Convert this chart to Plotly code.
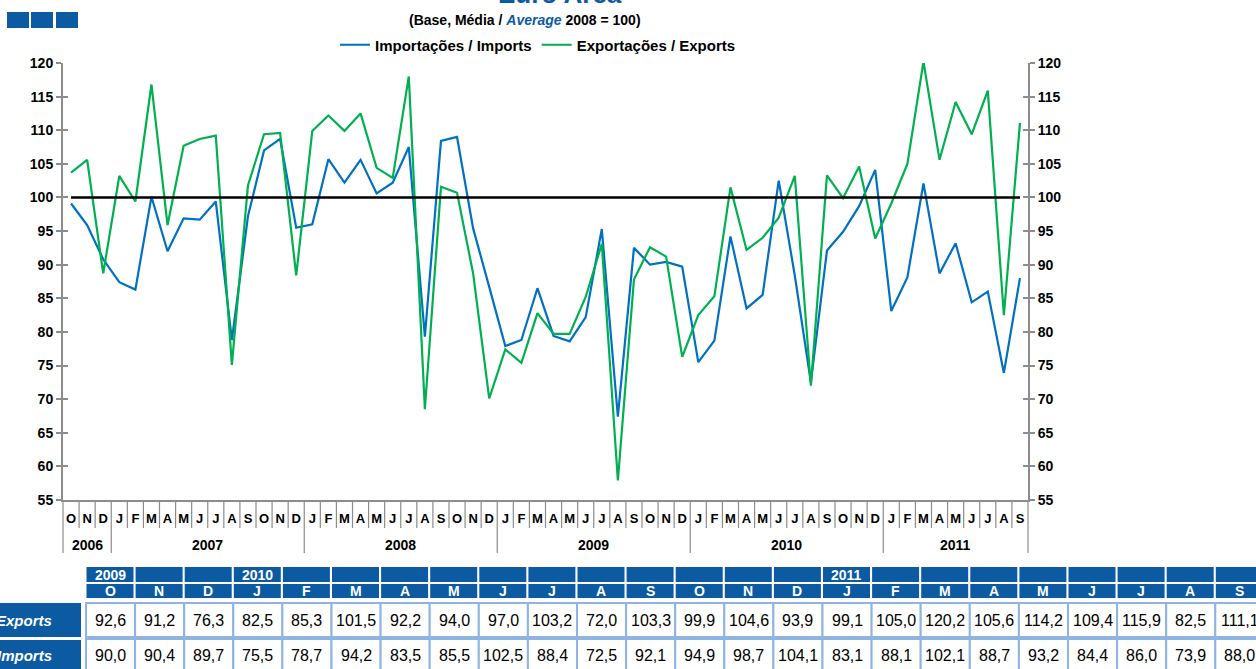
import plotly.graph_objects as go

# ---------------- data ----------------
YEARS = [2006, 2007, 2008, 2009, 2010, 2011]
MONTHS_PER_YEAR = [3, 12, 12, 12, 12, 9]          # Oct-2006 .. Sep-2011
MONTH_LETTERS = ["J", "F", "M", "A", "M", "J", "J", "A", "S", "O", "N", "D"]

exports = [103.7, 105.6, 88.7,
           103.2, 99.4, 116.8, 95.9, 107.7, 108.7, 109.2, 75.1, 101.8, 109.4, 109.6, 88.4,
           109.9, 112.2, 109.9, 112.5, 104.4, 102.9, 118.0, 68.5, 101.6, 100.7, 88.7, 70.1,
           77.4, 75.4, 82.8, 79.7, 79.7, 85.2, 93.1, 57.9, 87.8, 92.6, 91.2, 76.3,
           82.5, 85.3, 101.5, 92.2, 94.0, 97.0, 103.2, 72.0, 103.3, 99.9, 104.6, 93.9,
           99.1, 105.0, 120.2, 105.6, 114.2, 109.4, 115.9, 82.5, 111.1]
imports = [99.1, 95.9, 90.8,
           87.4, 86.3, 100.1, 92.0, 96.9, 96.7, 99.4, 78.8, 97.2, 107.0, 108.7, 95.5,
           96.0, 105.7, 102.2, 105.6, 100.6, 102.2, 107.5, 79.3, 108.4, 109.0, 95.4, 86.7,
           77.9, 78.8, 86.5, 79.4, 78.6, 82.2, 95.3, 67.4, 92.5, 90.0, 90.4, 89.7,
           75.5, 78.7, 94.2, 83.5, 85.5, 102.5, 88.4, 72.5, 92.1, 94.9, 98.7, 104.1,
           83.1, 88.1, 102.1, 88.7, 93.2, 84.4, 86.0, 73.9, 88.0]
TABLE_START = 36   # table shows Oct-2009 onwards

# month letters / year of each point
month_labels, point_years = [], []
for yr, cnt in zip(YEARS, MONTHS_PER_YEAR):
    first = 12 - cnt if yr == YEARS[0] else 0
    for m in range(first, first + cnt):
        month_labels.append(MONTH_LETTERS[m])
        point_years.append(yr)
N = len(month_labels)
idx = list(range(N))

# ---------------- styling helpers ----------------
W, H = 1256, 669
L, R, T, B = 63, 1028, 63, 500
def px(x):
    return (x - L) / (R - L)
def py(y):
    return (B - y) / (B - T)

FONT = "Liberation Sans, Arial, sans-serif"
BLUE = "#0B5AA2"
GRAY = "#8c8c8c"
C_IMP = "#0070C0"
C_EXP = "#00B050"

fig = go.Figure()
fig.add_trace(go.Scatter(x=idx, y=imports, mode="lines", name="Importações / Imports",
                         line=dict(color=C_IMP, width=2.2), yaxis="y"))
fig.add_trace(go.Scatter(x=idx, y=exports, mode="lines", name="Exportações / Exports",
                         line=dict(color=C_EXP, width=2.2), yaxis="y2"))
for ya in ("y3", "y4"):
    fig.add_trace(go.Scatter(x=[0], y=[None], mode="lines", showlegend=False,
                             hoverinfo="skip", yaxis=ya))

shapes = []
annotations = []

# reference line at 100
shapes.append(dict(type="line", xref="x", yref="y", x0=0, x1=N - 1, y0=100, y1=100,
                   line=dict(color="black", width=2.5), layer="above"))

# month separators and year separators below the x axis
year_bounds = [0]
for k in range(1, N):
    if point_years[k] != point_years[k - 1]:
        year_bounds.append(k)
year_bounds.append(N)
for k in range(N + 1):
    is_year = k in year_bounds
    shapes.append(dict(type="line", xref="paper", yref="paper", x0=k / N, x1=k / N,
                       y0=0, y1=py(553 if is_year else 528),
                       line=dict(color=GRAY, width=1.2)))
for a, b in zip(year_bounds[:-1], year_bounds[1:]):
    annotations.append(dict(xref="paper", yref="paper", x=(a + b) / 2 / N, y=py(545),
                            text=str(point_years[a]), showarrow=False,
                            font=dict(family=FONT, size=14, color="black", weight="bold"),
                            xanchor="center", yanchor="middle"))

# title, subtitle, logo squares
annotations.append(dict(xref="paper", yref="paper", x=px(560), y=py(-6), text="Euro Area",
                        showarrow=False, xanchor="center", yanchor="middle",
                        font=dict(family=FONT, size=26, color=BLUE, weight="bold")))
annotations.append(dict(xref="paper", yref="paper", x=px(525), y=py(20),
                        text="(Base, Média / <i><span style='color:%s'>Average</span></i> 2008 = 100)" % BLUE,
                        showarrow=False, xanchor="center", yanchor="middle",
                        font=dict(family=FONT, size=14, color="black", weight="bold")))
for x0 in (7, 31, 56):
    shapes.append(dict(type="rect", xref="paper", yref="paper", x0=px(x0), x1=px(x0 + 22),
                       y0=py(12), y1=py(28), fillcolor=BLUE, line=dict(width=0)))

# ---------------- table ----------------
COLW = 49.1
X_TAB = 86.5
t_months = month_labels[TABLE_START:]
t_years = point_years[TABLE_START:]
t_exp = exports[TABLE_START:]
t_imp = imports[TABLE_START:]
fmt = lambda v: ("%.1f" % v).replace(".", ",")
for i in range(len(t_months)):
    x0 = X_TAB + COLW * i
    # header cells
    for (ya, yb) in ((567, 582), (584, 598)):
        shapes.append(dict(type="rect", xref="paper", yref="paper", x0=px(x0), x1=px(x0 + 47),
                           y0=py(yb), y1=py(ya), fillcolor=BLUE, line=dict(width=0)))
    if i == 0 or t_years[i] != t_years[i - 1]:
        annotations.append(dict(xref="paper", yref="paper", x=px(x0 + 23.5), y=py(574.5),
                                text=str(t_years[i]), showarrow=False,
                                font=dict(family=FONT, size=14, color="white", weight="bold"),
                                xanchor="center", yanchor="middle"))
    annotations.append(dict(xref="paper", yref="paper", x=px(x0 + 23.5), y=py(591),
                            text=t_months[i], showarrow=False,
                            font=dict(family=FONT, size=14, color="white", weight="bold"),
                            xanchor="center", yanchor="middle"))
    # body cells
    for (ya, yb, val) in ((603, 637, t_exp[i]), (639, 676, t_imp[i])):
        shapes.append(dict(type="rect", xref="paper", yref="paper", x0=px(x0 - 0.5), x1=px(x0 + COLW - 0.5),
                           y0=py(yb), y1=py(ya), fillcolor="white",
                           line=dict(color="#8DB4E2", width=2)))
        annotations.append(dict(xref="paper", yref="paper", x=px(x0 + 24), y=py((ya + min(yb, 671)) / 2 + 0.5),
                                text=fmt(val), showarrow=False,
                                font=dict(family=FONT, size=16, color="black"),
                                xanchor="center", yanchor="middle"))
for (ya, yb, lab) in ((603, 637, "Exports"), (640, 676, "Imports")):
    shapes.append(dict(type="rect", xref="paper", yref="paper", x0=px(-10), x1=px(81),
                       y0=py(yb), y1=py(ya), fillcolor=BLUE, line=dict(width=0)))
    annotations.append(dict(xref="paper", yref="paper", x=px(54), y=py((ya + min(yb, 671)) / 2),
                            text="<i>%s</i>" % lab, showarrow=False,
                            font=dict(family=FONT, size=15, color="white", weight="bold"),
                            xanchor="right", yanchor="middle"))

# ---------------- axes ----------------
yax = dict(range=[55, 120], tick0=55, dtick=5, showgrid=False, zeroline=False,
           tickfont=dict(family=FONT, size=14, color="black", weight="bold"))
fig.update_layout(
    width=W, height=H,
    margin=dict(l=L, r=W - R, t=T, b=H - B),
    paper_bgcolor="white", plot_bgcolor="white",
    showlegend=True,
    legend=dict(orientation="h", x=px(538), xanchor="center", y=py(45), yanchor="middle",
                font=dict(family=FONT, size=15, color="black", weight="bold"),
                bgcolor="rgba(0,0,0,0)", itemwidth=30, tracegroupgap=0),
    xaxis=dict(range=[-0.5, N - 0.5], tickmode="array", tickvals=idx, ticktext=month_labels,
               ticks="", showgrid=False, zeroline=False, showline=True, linecolor=GRAY,
               linewidth=2, ticklabelstandoff=5,
               tickfont=dict(family=FONT, size=13, color="black", weight="bold")),
    yaxis=dict(side="left", ticks="outside", ticklen=5, tickcolor=GRAY, tickwidth=1.5,
               showline=True, linecolor=GRAY, linewidth=2, **yax),
    yaxis2=dict(side="right", overlaying="y", ticks="outside", ticklen=5, tickcolor=GRAY,
                tickwidth=1.5, showline=True, linecolor=GRAY, linewidth=2, **yax),
    yaxis3=dict(side="left", overlaying="y", ticks="inside", ticklen=5, tickcolor=GRAY,
                tickwidth=1.5, showticklabels=False, showline=False, **yax),
    yaxis4=dict(side="right", overlaying="y", ticks="inside", ticklen=5, tickcolor=GRAY,
                tickwidth=1.5, showticklabels=False, showline=False, **yax),
    shapes=shapes,
    annotations=annotations,
)

fig.write_html("out.html", config={"displayModeBar": False},
               post_script="document.body.style.margin='0px';document.body.style.overflow='hidden';")
